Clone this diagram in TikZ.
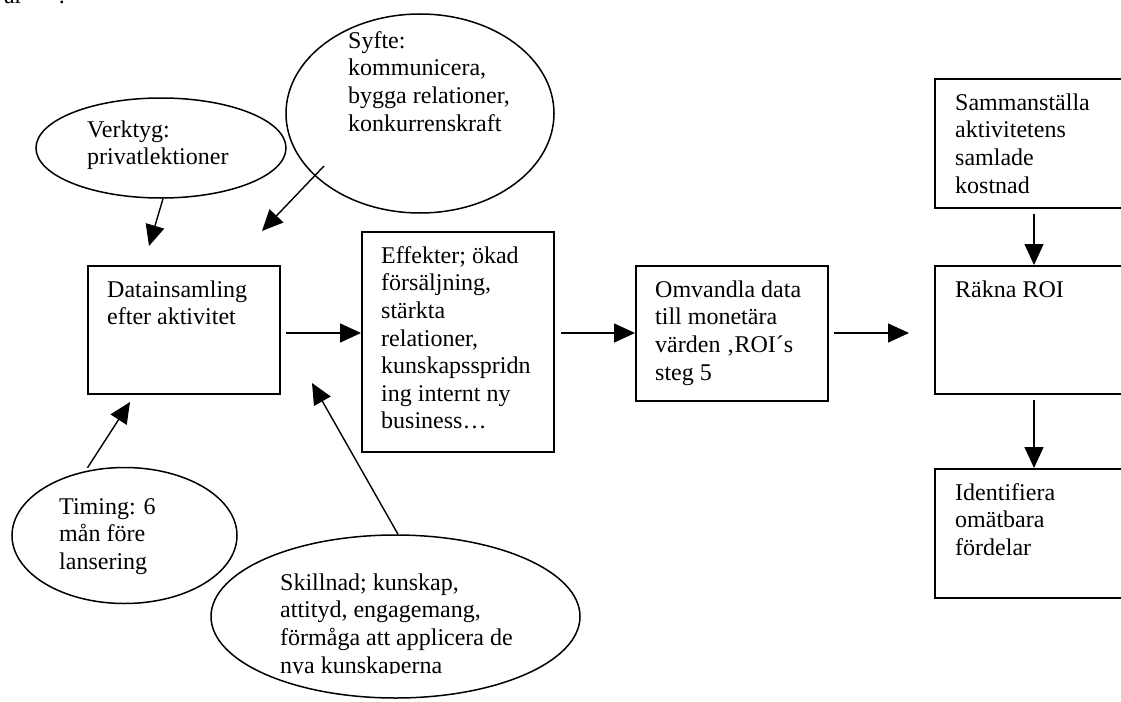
\documentclass[tikz,border=0pt]{standalone}
\usepackage{fontspec}
\setmainfont{Liberation Serif}
\usetikzlibrary{shapes.geometric,arrows.meta}
\begin{document}
\begin{tikzpicture}[x=1pt,y=-1pt,
  box/.style={draw, line width=1.8pt, rectangle, anchor=north west, inner sep=0pt},
  oval/.style={draw, line width=1.5pt, ellipse, inner sep=0pt},
  txt/.style={anchor=north west, inner sep=0pt, align=left,
              font=\fontsize{24}{27.6}\selectfont},
  arr/.style={line width=1.4pt, -{Triangle[length=21pt,width=19pt]}},
]
\path[use as bounding box] (0,0) rectangle (1121,701);
\clip (0,0) rectangle (1121,701);

% tail of the preceding line of text
\node[anchor=base west, inner sep=0pt, font=\fontsize{24}{27.6}\selectfont]
  (prev) at (4,4) {ar\hspace*{36pt}.};

% ellipses
\node[oval, minimum width=250pt, minimum height=100pt] (verktyg) at (161,148) {};
\node[oval, minimum width=268pt, minimum height=199pt] (syfte) at (420,113.5) {};
\node[oval, minimum width=225pt, minimum height=136pt] (timing) at (124.5,535.5) {};
\node[oval, minimum width=369pt, minimum height=163pt] (skillnad) at (395.5,616.5) {};

% boxes
\node[box, minimum width=192pt, minimum height=128pt] (data) at (87,265) {};
\node[box, minimum width=192pt, minimum height=220pt] (effekter) at (361,231) {};
\node[box, minimum width=192pt, minimum height=135pt] (omvandla) at (635,265) {};
\node[box, minimum width=200pt, minimum height=129pt] (kostnad) at (934,78) {};
\node[box, minimum width=200pt, minimum height=128pt] (rakna) at (934,265) {};
\node[box, minimum width=200pt, minimum height=129pt] (omatbara) at (934,468) {};

% texts (first baseline 19.3pt below the given point)
\node[txt] (tverktyg) at (87,117.7) {\strut Verktyg:\\privatlektioner};
\node[txt] (tsyfte) at (348,28.7) {\strut Syfte:\\kommunicera,\\bygga relationer,\\konkurrenskraft};
\node[txt] (tdata) at (107,277.7) {\strut Datainsamling\\efter aktivitet};
\node[txt] (teffekter) at (381,243.7) {\strut Effekter; ökad\\försäljning,\\stärkta\\relationer,\\kunskapsspridn\\ing internt ny\\business…};
\node[txt] (tomvandla) at (655,277.7) {\strut Omvandla data\\till monetära\\värden ‚ROI´s\\steg 5};
\node[txt] (tkostnad) at (955,90.7) {\strut Sammanställa\\aktivitetens\\samlade\\kostnad};
\node[txt] (trakna) at (955,277.7) {\strut Räkna ROI};
\node[txt] (tomatbara) at (955,480.7) {\strut Identifiera\\omätbara\\fördelar};
\node[txt] (ttiming) at (59,494.7) {\strut Timing: 6\\mån före\\lansering};
\begin{scope}
  \clip (200,530) rectangle (600,673);
  \node[txt] (tskillnad) at (280,570.7) {\strut Skillnad; kunskap,\\attityd, engagemang,\\förmåga att applicera de\\nya kunskaperna};
\end{scope}

% free ends of the connectors
\coordinate (vtip) at (149,246);
\coordinate (sstart) at (324,166);
\coordinate (stip) at (262,231);
\coordinate (dstart) at (286,333);
\coordinate (estart) at (561,333);
\coordinate (ostart) at (834,333);
\coordinate (otip) at (909,333);
\coordinate (ttip) at (130,402);
\coordinate (ktip) at (312,383);
\coordinate (kstart) at (1034,214);
\coordinate (rstart) at (1034,400);

% connectors
\draw[arr] (verktyg.south) ++(2,0) -- (vtip);
\draw[arr] (sstart) -- (stip);
\draw[arr] (dstart) -- (effekter.west |- dstart);
\draw[arr] (estart) -- (omvandla.west |- estart);
\draw[arr] (ostart) -- (otip);
\draw[arr] (kstart) -- (rakna.north -| kstart);
\draw[arr] (rstart) -- (omatbara.north -| rstart);
\draw[arr] (timing.north) ++(-37,1) -- (ttip);
\draw[arr] (skillnad.north) ++(2.5,0) -- (ktip);
\end{tikzpicture}
\end{document}
